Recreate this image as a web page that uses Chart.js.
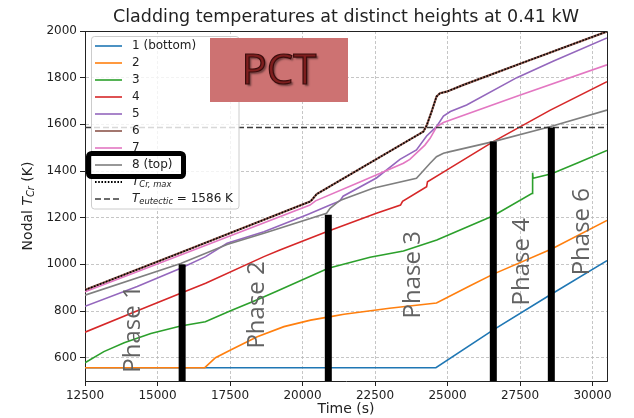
<!DOCTYPE html>
<html>
<head>
<meta charset="utf-8">
<title>Cladding temperatures</title>
<script src="https://cdn.jsdelivr.net/npm/chart.js@4.4.1/dist/chart.umd.min.js"></script>
<style>
  html, body { margin: 0; padding: 0; background: #fff; }
  #wrap { width: 634px; height: 418px; }
</style>
</head>
<body>
<div id="wrap"><canvas id="tempChart" width="634" height="418"></canvas></div>
<script>
// time (s) / temperature (K) per axial node
const t1 = [12500, 24600, 26580, 28590, 30500];
const node1 = [557, 557, 719, 873, 1016];

const t2 = [12500, 16630, 17000, 17520, 18440, 19360, 20280, 20970, 21430, 23000, 24620, 25780, 26580, 28590, 30500];
const node2 = [557, 557, 600, 633, 690, 733, 761, 776, 786, 812, 834, 908, 958, 1066, 1188];

const t3 = [12500, 13150, 13850, 14770, 15800, 16650, 17520, 18440, 19130, 20890, 22330, 23480, 24630, 26580, 27920, 27935, 27950, 28590, 29500, 30500];
const node3 = [578, 626, 664, 704, 736, 754, 801, 848, 886, 983, 1030, 1057, 1104, 1208, 1304, 1393, 1369, 1388, 1435, 1488];

const t4 = [12500, 14200, 15800, 16660, 18670, 19220, 20830, 22550, 23380, 23450, 24280, 24310, 24970, 26580, 28530, 30500];
const node4 = [709, 796, 876, 919, 1033, 1061, 1140, 1219, 1254, 1270, 1333, 1354, 1404, 1526, 1660, 1783];

const t5 = [12500, 14300, 15800, 16660, 17400, 18670, 20200, 20950, 21290, 21400, 22550, 23360, 23930, 24280, 24620, 24860, 25100, 25660, 27390, 28640, 30500];
const node5 = [820, 905, 983, 1033, 1090, 1140, 1215, 1254, 1272, 1292, 1370, 1450, 1490, 1550, 1590, 1635, 1655, 1683, 1800, 1870, 1970];

const t6 = [12500, 16000, 20260, 20320, 20490, 24050, 24170, 24280, 24450, 24620, 24740, 24970, 25550, 27850, 30500];
const node6 = [890, 1060, 1269, 1276, 1301, 1560, 1569, 1595, 1654, 1719, 1733, 1740, 1769, 1876, 1998];

const t7 = [12500, 16000, 20260, 20450, 22000, 23480, 23700, 24220, 24400, 24630, 24860, 27390, 30500];
const node7 = [882, 1050, 1254, 1272, 1354, 1433, 1450, 1511, 1540, 1590, 1608, 1720, 1855];

const t8 = [12500, 15800, 17400, 18670, 20830, 20950, 21290, 22430, 23930, 24400, 24620, 24860, 25090, 26580, 28530, 30500];
const node8 = [868, 1004, 1085, 1133, 1219, 1240, 1274, 1326, 1369, 1433, 1461, 1476, 1483, 1526, 1590, 1661];

const nodeLabels = ["1 (bottom)", "2", "3", "4", "5", "6", "7", "8 (top)"];
const eutecticK = 1586;

// phase boundaries: time and height of the marker bar
const phaseTimes = [15850, 20890, 26580, 28580];
const phaseTops = [1000, 1212, 1526, 1586];
const phaseNames = ["Phase 1", "Phase 2", "Phase 3", "Phase 4", "Phase 6"];

const xMin = 12500, xMax = 30500, yMin = 500, yMax = 2000;
const xTicks = [12500, 15000, 17500, 20000, 22500, 25000, 27500, 30000];
const yTicks = [600, 800, 1000, 1200, 1400, 1600, 1800, 2000];

const colors = ['#1f77b4', '#ff7f0e', '#2ca02c', '#d62728', '#9467bd', '#8c564b', '#e377c2', '#7f7f7f'];
const nodeTimes = [t1, t2, t3, t4, t5, t6, t7, t8];
const nodeTemps = [node1, node2, node3, node4, node5, node6, node7, node8];

function pts(ts, vs) {
  return ts.map((t, i) => ({ x: t, y: vs[i] }));
}

const datasets = [];
phaseTimes.forEach((t, i) => {
  datasets.push({
    label: 'phase', data: [{ x: t, y: yMin }, { x: t, y: phaseTops[i] }],
    borderColor: '#000', borderWidth: 7, borderCapStyle: 'butt', order: 0
  });
});
// T_Cr,max follows node 6 (hottest node) over the whole transient
datasets.push({
  label: 'tmax', data: pts(t6, node6),
  borderColor: '#000', borderWidth: 1.6, borderDash: [1.6, 1.6], order: 1
});
datasets.push({
  label: 'eutectic', data: [{ x: xMin, y: eutecticK }, { x: xMax, y: eutecticK }],
  borderColor: '#3c3c3c', borderWidth: 1.5, borderDash: [6, 3], order: 2
});
nodeLabels.forEach((lab, i) => {
  datasets.push({
    label: lab, data: pts(nodeTimes[i], nodeTemps[i]),
    borderColor: colors[i], borderWidth: i === 5 ? 2.2 : 1.6, order: 10 - i
  });
});

const FONT = '"DejaVu Sans", sans-serif';

// draw a string made of parts: {text, italic, sub}
function richWidth(ctx, parts, size) {
  let w = 0;
  parts.forEach(p => {
    const s = p.sub ? size * 0.7 : size;
    ctx.font = (p.italic ? 'italic ' : '') + s + 'px ' + FONT;
    w += ctx.measureText(p.text).width;
  });
  return w;
}
function drawRich(ctx, parts, x, y, size) {
  let cx = x;
  parts.forEach(p => {
    const s = p.sub ? size * 0.7 : size;
    ctx.font = (p.italic ? 'italic ' : '') + s + 'px ' + FONT;
    ctx.fillText(p.text, cx, p.sub ? y + size * 0.22 : y);
    cx += ctx.measureText(p.text).width;
  });
}

function drawLegend(ctx) {
  ctx.save();
  ctx.beginPath();
  ctx.roundRect(91.5, 36.5, 147.5, 172.5, 3);
  ctx.fillStyle = 'rgba(255,255,255,0.8)';
  ctx.fill();
  ctx.strokeStyle = '#cccccc';
  ctx.lineWidth = 1;
  ctx.stroke();

  const rowY = i => 46 + 17 * i;
  ctx.textBaseline = 'middle';
  ctx.fillStyle = '#222';
  nodeLabels.forEach((lab, i) => {
    ctx.beginPath();
    ctx.moveTo(95, rowY(i));
    ctx.lineTo(122, rowY(i));
    ctx.strokeStyle = colors[i];
    ctx.lineWidth = 1.6;
    ctx.stroke();
    ctx.font = '12px ' + FONT;
    ctx.fillText(lab, 132, rowY(i));
  });

  ctx.setLineDash([1.6, 1.6]);
  ctx.strokeStyle = '#000';
  ctx.lineWidth = 1.8;
  ctx.beginPath();
  ctx.moveTo(95, rowY(8));
  ctx.lineTo(122, rowY(8));
  ctx.stroke();
  ctx.setLineDash([6, 3]);
  ctx.strokeStyle = '#3c3c3c';
  ctx.lineWidth = 1.5;
  ctx.beginPath();
  ctx.moveTo(95, rowY(9));
  ctx.lineTo(122, rowY(9));
  ctx.stroke();
  ctx.setLineDash([]);

  ctx.fillStyle = '#222';
  drawRich(ctx, [{ text: 'T', italic: true }, { text: 'Cr, max', italic: true, sub: true }], 132, rowY(8), 12);
  drawRich(ctx, [{ text: 'T', italic: true }, { text: 'eutectic', italic: true, sub: true },
    { text: ' = ' + eutecticK + ' K' }], 132, rowY(9), 12);

  // box drawn round the top-node entry
  ctx.beginPath();
  ctx.roundRect(88.5, 153.5, 95, 23, 3);
  ctx.strokeStyle = '#000';
  ctx.lineWidth = 5;
  ctx.stroke();
  ctx.restore();
}

const overlay = {
  id: 'overlay',
  afterDatasetsDraw(chart) {
    const { ctx, chartArea: a, scales: { x, y } } = chart;
    ctx.save();

    // frame on top/right like the other two spines
    ctx.strokeStyle = '#222';
    ctx.lineWidth = 1;
    ctx.beginPath();
    ctx.moveTo(a.left, a.top + 0.5);
    ctx.lineTo(a.right + 0.5, a.top + 0.5);
    ctx.lineTo(a.right + 0.5, a.bottom);
    ctx.stroke();

    drawLegend(ctx);

    // PCT tag
    ctx.fillStyle = '#cd7272';
    ctx.fillRect(210, 38, 138, 64);
    ctx.font = '42px "Open Sans", sans-serif';
    ctx.textAlign = 'center';
    ctx.textBaseline = 'middle';
    ctx.shadowColor = 'rgba(0,0,0,0.45)';
    ctx.shadowOffsetX = 2;
    ctx.shadowOffsetY = 2;
    ctx.shadowBlur = 2;
    ctx.fillStyle = '#7e1e1e';
    ctx.fillText('PCT', 279, 72);
    ctx.shadowColor = 'transparent';
    ctx.strokeStyle = '#3a0c0c';
    ctx.lineWidth = 1.2;
    ctx.strokeText('PCT', 279, 72);

    // phase names, rotated, centred at (time, K)
    const spots = [[14155, 723], [18431, 826], [23810, 955], [27569, 1011], [29638, 1140]];
    ctx.fillStyle = '#626262';
    ctx.font = '24px "Open Sans", sans-serif';
    phaseNames.forEach((name, i) => {
      ctx.save();
      ctx.translate(x.getPixelForValue(spots[i][0]), y.getPixelForValue(spots[i][1]));
      ctx.rotate(-Math.PI / 2);
      ctx.fillText(name, 0, 0);
      ctx.restore();
    });

    // title and axis titles
    ctx.fillStyle = '#222';
    ctx.textAlign = 'center';
    ctx.font = '17.5px ' + FONT;
    ctx.fillText('Cladding temperatures at distinct heights at 0.41 kW', (a.left + a.right) / 2, 17);
    ctx.font = '14px ' + FONT;
    ctx.fillText('Time (s)', (a.left + a.right) / 2, 409);

    const yl = [{ text: 'Nodal ' }, { text: 'T', italic: true }, { text: 'Cr', italic: true, sub: true }, { text: ' (K)' }];
    ctx.save();
    ctx.translate(28, (a.top + a.bottom) / 2);
    ctx.rotate(-Math.PI / 2);
    ctx.textAlign = 'left';
    const w = richWidth(ctx, yl, 14);
    drawRich(ctx, yl, -w / 2, 0, 14);
    ctx.restore();

    ctx.restore();
  }
};

const tickFont = { family: 'DejaVu Sans', size: 12 };

new Chart(document.getElementById('tempChart'), {
  type: 'line',
  data: { datasets },
  options: {
    responsive: false,
    animation: false,
    layout: { padding: { top: 31, right: 27, left: 0, bottom: 0 } },
    plugins: { legend: { display: false }, tooltip: { enabled: false }, title: { display: false } },
    elements: { point: { radius: 0 }, line: { tension: 0 } },
    scales: {
      x: {
        type: 'linear', min: xMin, max: xMax,
        afterBuildTicks: s => { s.ticks = xTicks.map(v => ({ value: v })); },
        afterFit: s => { s.height = 37; },
        ticks: { callback: v => String(v), color: '#222', font: tickFont, padding: 3, maxRotation: 0, autoSkip: false },
        grid: { color: '#b8b8b8', lineWidth: 0.8, tickLength: 5, tickColor: '#222', tickWidth: 1 },
        border: { color: '#222', width: 1, dash: [3, 2] }
      },
      y: {
        type: 'linear', min: yMin, max: yMax,
        afterBuildTicks: s => { s.ticks = yTicks.map(v => ({ value: v })); },
        afterFit: s => { s.width = 85; },
        ticks: { callback: v => String(v), color: '#222', font: tickFont, padding: 3 },
        grid: { color: '#b8b8b8', lineWidth: 0.8, tickLength: 5, tickColor: '#222', tickWidth: 1 },
        border: { color: '#222', width: 1, dash: [3, 2] }
      }
    }
  },
  plugins: [overlay]
});
</script>
</body>
</html>
